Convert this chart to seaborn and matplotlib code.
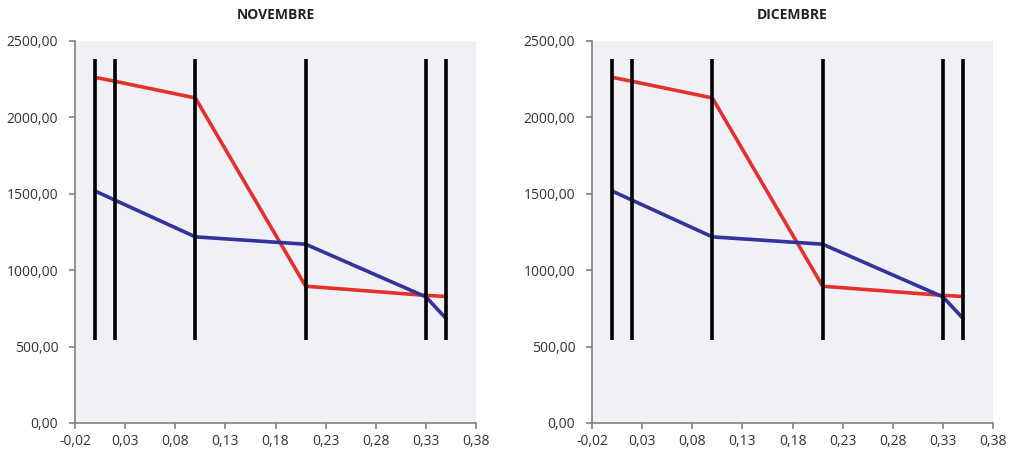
import seaborn as sns
import pandas as pd
import matplotlib.pyplot as plt
from matplotlib.ticker import FuncFormatter, MultipleLocator

# --- data ---
months = ['NOVEMBRE', 'DICEMBRE']
x_pts = [0.0, 0.02, 0.10, 0.21, 0.33, 0.35]
red_vals = [2262, 2236, 2127, 895, 835, 828]
blue_vals = [1518, 1458, 1218, 1170, 825, 684]
vline_x = [0.0, 0.02, 0.10, 0.21, 0.33, 0.35]
vline_lo, vline_hi = 540, 2380

sns.set_style('white')
plt.rcParams['font.family'] = ['Open Sans', 'DejaVu Sans']

rows = []
for m in months:
    for x, r, b in zip(x_pts, red_vals, blue_vals):
        rows.append({'month': m, 'x': x, 'serie': 'rosso', 'val': r})
        rows.append({'month': m, 'x': x, 'serie': 'blu', 'val': b})
df = pd.DataFrame(rows)

fig = plt.figure(figsize=(10.13, 4.57), dpi=100)
lefts = [0.074, 0.5844]
fmt = FuncFormatter(lambda v, p: f'{v:.2f}'.replace('.', ','))

for i, m in enumerate(months):
    ax = fig.add_axes([lefts[i], 0.0744, 0.396, 0.836])
    ax.set_facecolor('#eff1f6')
    ax.vlines(vline_x, vline_lo, vline_hi, colors='black', linewidth=2.6, zorder=3)
    sns.lineplot(data=df[df.month == m], x='x', y='val', hue='serie',
                 palette={'rosso': '#e5312b', 'blu': '#33339b'},
                 linewidth=2.6, legend=False, ax=ax, zorder=2)
    ax.set_xlim(-0.02, 0.38)
    ax.set_ylim(0, 2500)
    ax.xaxis.set_major_locator(MultipleLocator(0.05, offset=-0.02))
    ax.yaxis.set_major_locator(MultipleLocator(500))
    ax.xaxis.set_major_formatter(fmt)
    ax.yaxis.set_major_formatter(fmt)
    ax.set_xlabel('')
    ax.set_ylabel('')
    for s in ['top', 'right']:
        ax.spines[s].set_visible(False)
    for s in ['left', 'bottom']:
        ax.spines[s].set_color('#808080')
        ax.spines[s].set_linewidth(1.2)
    ax.tick_params(axis='both', direction='out', length=4, width=1.2, color='#808080',
                   labelsize=10, labelcolor='#333333')
    ax.tick_params(axis='y', pad=8)
    ax.tick_params(axis='x', pad=4)
    ax.tick_params(left=True, bottom=True)
    for lab in ax.get_xticklabels() + ax.get_yticklabels():
        lab.set_fontweight('medium')
    ax.set_title(m, fontsize=10, fontweight='bold', pad=16, color='#222222')

plt.savefig('out.png', dpi=100)
